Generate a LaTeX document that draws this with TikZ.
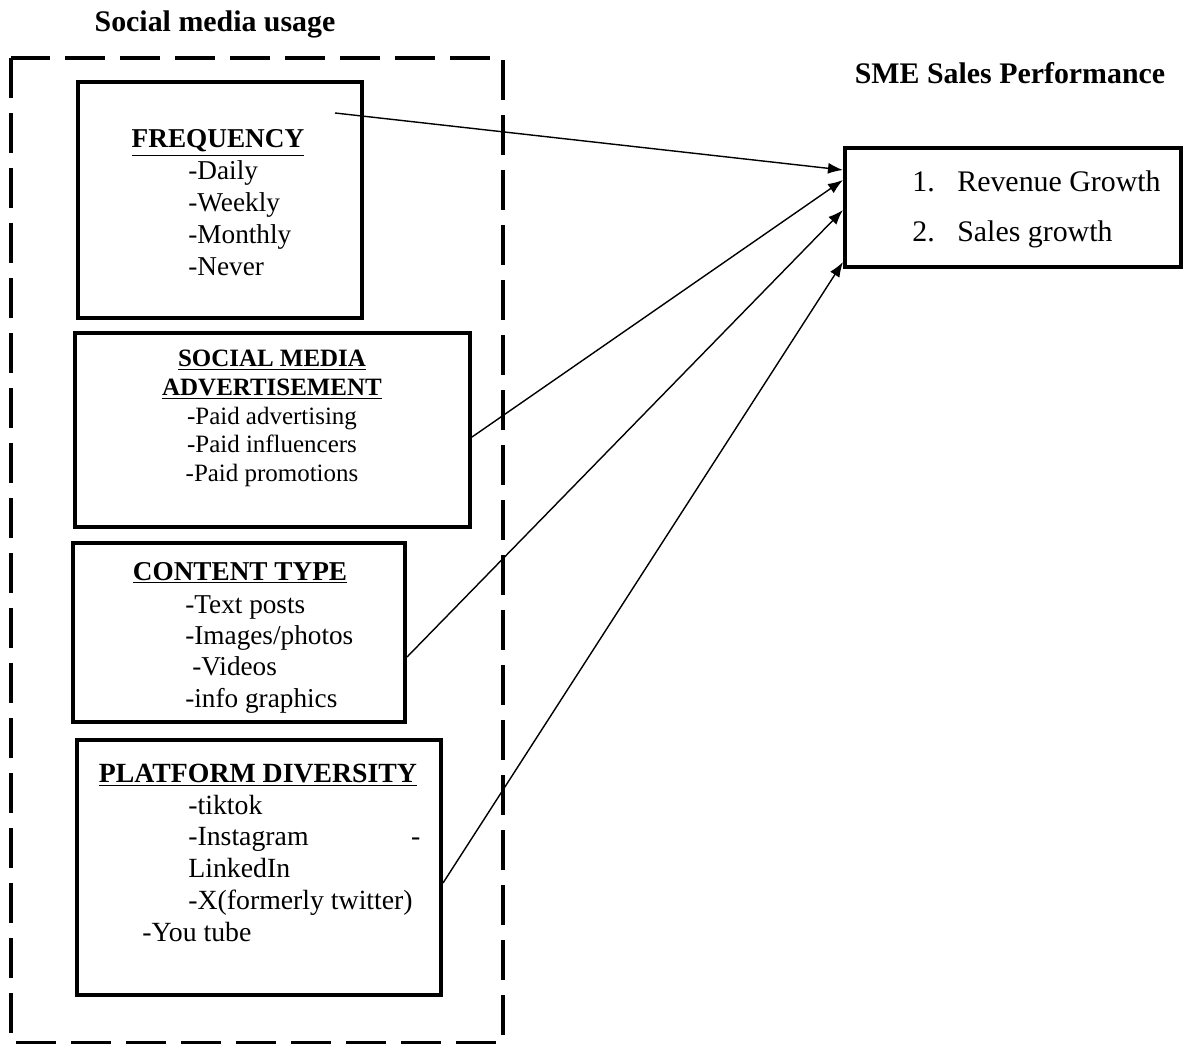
\documentclass[tikz,border=0pt]{standalone}
\usepackage{fontspec}
\setmainfont{Liberation Serif}
\usetikzlibrary{arrows.meta}

\begin{document}
\begin{tikzpicture}[
		box/.style={draw, line width=2.3pt, inner sep=0pt},
		link/.style={-{Latex[length=0.3cm, width=0.22cm]}, line width=0.8pt},
		usage/.style={line width=2.3pt, dash pattern=on 0.8cm off 0.3cm},
		txt/.style={inner sep=0pt}
	]
			\useasboundingbox (0, 0) rectangle (23.68, -20.88);
			
			% titles
			\node [txt, anchor=base, font=\bfseries\fontsize{17}{20}\selectfont] (usagetitle) at (4.30, -0.64) {Social media usage};
			\node [txt, anchor=base, font=\bfseries\fontsize{17}{20}\selectfont] (perftitle) at (20.20, -1.68) {SME Sales Performance};
			
			% dashed frame
			\draw[usage] (0.22, -1.16) rectangle (10.06, -20.86);
			
			% boxes
			\node [box, minimum width=5.68cm, minimum height=4.72cm] (freq) at (4.40, -4.00) {};
			\node [box, minimum width=7.90cm, minimum height=3.88cm] (adv) at (5.45, -8.60) {};
			\node [box, minimum width=6.64cm, minimum height=3.58cm] (content) at (4.78, -12.65) {};
			\node [box, minimum width=7.28cm, minimum height=5.10cm] (platform) at (5.18, -17.35) {};
			\node [box, minimum width=6.72cm, minimum height=2.38cm] (perf) at (20.26, -4.15) {};
			
			% frequency
			\node [txt, anchor=base, font=\bfseries\fontsize{15.5}{18.2}\selectfont] (freqhead) at (4.36, -2.96) {\underline{FREQUENCY}};
			\node [txt, anchor=base west, font=\fontsize{15.5}{18.2}\selectfont] (freqitems) at (3.76, -3.60)
				{\begin{tabular}[t]{@{}l@{}}-Daily\\ -Weekly\\ -Monthly\\ -Never\end{tabular}};
			
			% advertisement
			\node [txt, anchor=base, font=\fontsize{14.2}{16.3}\selectfont] (advitems) at (5.44, -7.34)
				{\begin{tabular}[t]{@{}c@{}}\textbf{\underline{SOCIAL MEDIA}}\\ \textbf{\underline{ADVERTISEMENT}}\\ -Paid advertising\\ -Paid influencers\\ -Paid promotions\end{tabular}};
			
			% content type
			\node [txt, anchor=base, font=\bfseries\fontsize{15.5}{17.9}\selectfont] (contenthead) at (4.80, -11.60) {\underline{CONTENT TYPE}};
			\node [txt, anchor=base west, font=\fontsize{15.5}{17.9}\selectfont] (contentitems) at (3.70, -12.26)
				{\begin{tabular}[t]{@{}l@{}}-Text posts\\ -Images/photos\\ \hspace*{0.14cm}-Videos\\ -info graphics\end{tabular}};
			
			% platform diversity
			\node [txt, anchor=base, font=\bfseries\fontsize{15.8}{18.1}\selectfont] (platformhead) at (5.16, -15.64) {\underline{PLATFORM DIVERSITY}};
			\node [txt, anchor=base west, font=\fontsize{15.8}{18.1}\selectfont] (platformitems) at (3.76, -16.28)
				{\begin{tabular}[t]{@{}l@{}}-tiktok\\ \makebox[4.64cm][l]{-Instagram\hfill-}\\ LinkedIn\\ -X(formerly twitter)\\ \hspace*{-0.92cm}-You tube\end{tabular}};
			
			% sales performance
			\node [txt, anchor=base west, font=\fontsize{17}{28.45}\selectfont] (perfitems) at (18.24, -3.84)
				{\begin{tabular}[t]{@{}l@{}}\makebox[0.9cm][l]{1.}Revenue Growth\\ \makebox[0.9cm][l]{2.}Sales growth\end{tabular}};
			
			% links
			\coordinate (freqtail) at (6.70, -2.26);
			\draw[link] (freqtail) -- ([yshift=0.75cm]perf.west);
			\draw[link] ([yshift=-0.14cm]adv.east) -- ([yshift=0.55cm]perf.west);
			\draw[link] ([yshift=-0.49cm]content.east) -- ([yshift=-0.05cm]perf.west);
			\draw[link] ([yshift=-0.31cm]platform.east) -- ([yshift=-1.09cm]perf.west);
		\end{tikzpicture}
\end{document}
